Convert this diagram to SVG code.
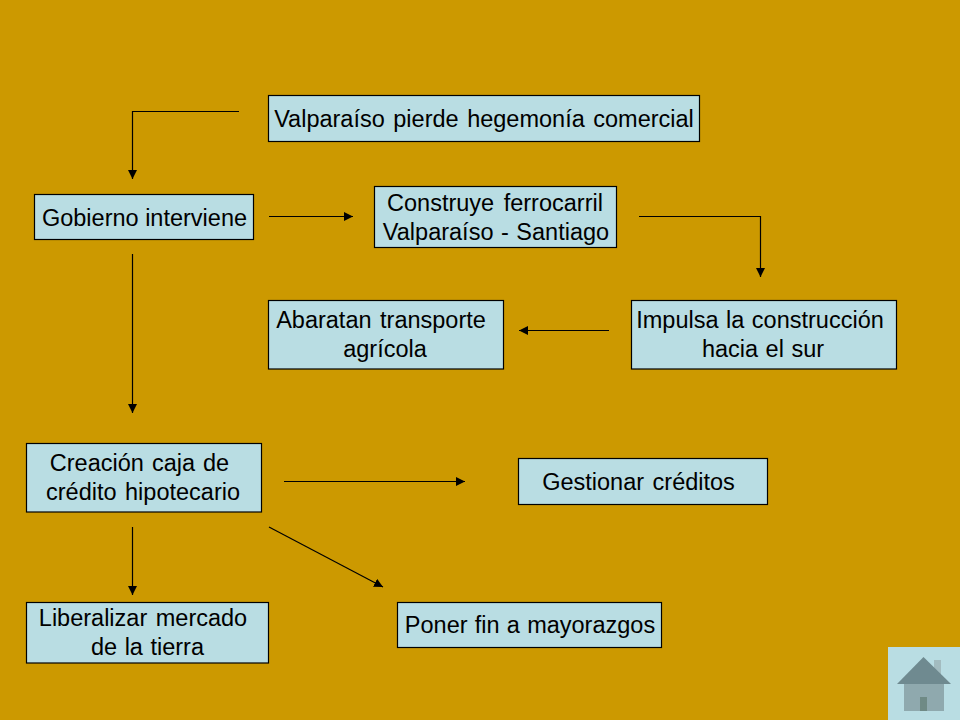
<svg xmlns="http://www.w3.org/2000/svg" width="960" height="720" viewBox="0 0 960 720">
<defs><marker id="a" markerUnits="userSpaceOnUse" markerWidth="10" markerHeight="10" refX="9" refY="4.500" orient="auto"><path d="M0 0L9 4.500L0 9z" fill="#000"/></marker></defs>
<style>
.b{fill:#b9dde3;stroke:#000;stroke-width:1.200}
text{font-family:"Liberation Sans",Arial,sans-serif;font-size:23.500px;fill:#000;text-anchor:middle}
.c{fill:none;stroke:#000;stroke-width:1.200;marker-end:url(#a)}
</style>
<rect width="960" height="720" fill="#cc9900"/>
<g id="connectors">
<path class="c" d="M239 111.500H132.500V179"/>
<path class="c" d="M269 216.500H353"/>
<path class="c" d="M639 216.500H760.500V277"/>
<path class="c" d="M609 330.500H519"/>
<path class="c" d="M132.500 254V413"/>
<path class="c" d="M284 481.500H465"/>
<path class="c" d="M132.500 527V595"/>
<path class="c" d="M269 527L383 587"/>
</g>
<g id="n1"><rect class="b" x="268.500" y="95.500" width="431" height="46"/><text x="484" y="127" word-spacing="2">Valparaíso pierde hegemonía comercial</text></g>
<g id="n2"><rect class="b" x="34.500" y="194.500" width="219" height="45"/><text x="144.500" y="226" word-spacing="0">Gobierno interviene</text></g>
<g id="n3"><rect class="b" x="374.500" y="186.500" width="242" height="61"/><text x="495" y="211" word-spacing="3">Construye ferrocarril</text><text x="496" y="240" word-spacing="1">Valparaíso - Santiago</text></g>
<g id="n4"><rect class="b" x="268.500" y="300.500" width="235" height="68.500"/><text x="381" y="328" word-spacing="2">Abaratan transporte</text><text x="385" y="357">agrícola</text></g>
<g id="n5"><rect class="b" x="631.500" y="300.500" width="265" height="68.500"/><text x="760" y="328" word-spacing="1">Impulsa la construcción</text><text x="763" y="357" word-spacing="1">hacia el sur</text></g>
<g id="n6"><rect class="b" x="26.500" y="443.500" width="235" height="68.500"/><text x="139.500" y="471" word-spacing="1.500">Creación caja de</text><text x="143" y="500" word-spacing="2">crédito hipotecario</text></g>
<g id="n7"><rect class="b" x="518.500" y="458.500" width="249" height="46"/><text x="638.500" y="490" word-spacing="2">Gestionar créditos</text></g>
<g id="n8"><rect class="b" x="26.500" y="602.500" width="242" height="60.500"/><text x="143" y="626" word-spacing="2">Liberalizar mercado</text><text x="147.500" y="655" word-spacing="1">de la tierra</text></g>
<g id="n9"><rect class="b" x="397.500" y="602.500" width="264" height="45"/><text x="530" y="633" word-spacing="0.700">Poner fin a mayorazgos</text></g>
<g id="home"><rect x="888" y="647" width="72" height="73" fill="#b9dde3"/><rect x="934" y="660" width="7" height="16" fill="#a3bcc0"/><path d="M923.500 657L897 684H951z" fill="#6f8a90"/><rect x="904" y="684" width="40" height="27" fill="#8fa9ae"/><rect x="920" y="697" width="7" height="14" fill="#6f8a85"/></g>
</svg>
